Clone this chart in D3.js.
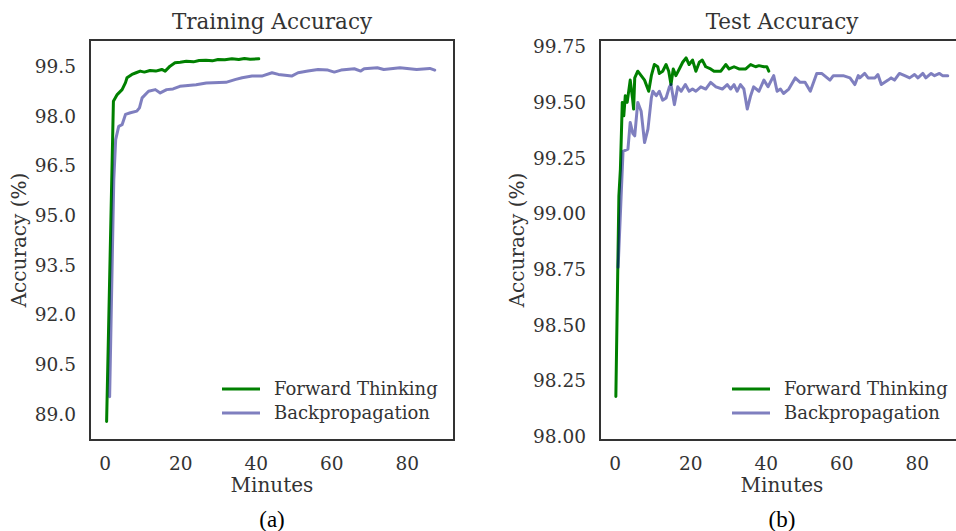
<!DOCTYPE html>
<html>
<head>
<meta charset="utf-8">
<script src="https://cdn.jsdelivr.net/npm/d3@7"></script>
<style>
  body { margin: 0; background: #fff; }
  svg { display: block; }
  text { font-family: "DejaVu Serif", serif; fill: #333; }
  .caption { font-family: "Liberation Serif", "Times New Roman", serif; fill: #000; }
</style>
</head>
<body>
<svg id="chart" width="956" height="531"></svg>
<script>
// training accuracy, forward thinking
const trainFtMin = [0.5, 2.3, 3.3, 4.6, 5.5, 5.9, 7.2, 8.3, 9.4, 10.5, 12, 13.5, 15.1, 16, 17.3, 18.6, 20, 21.6, 23.5, 25, 26.8, 28.5, 30, 31.8, 33.7, 35.5, 37, 38.5, 40.8];
const trainFtAcc = [88.78, 98.46, 98.66, 98.81, 99.02, 99.17, 99.27, 99.32, 99.37, 99.34, 99.39, 99.37, 99.42, 99.37, 99.52, 99.62, 99.64, 99.67, 99.65, 99.69, 99.70, 99.68, 99.72, 99.71, 99.74, 99.72, 99.75, 99.73, 99.74];

// training accuracy, backprop
const trainBpMin = [1.3, 2.4, 2.9, 3.7, 4.6, 5.5, 6.8, 8.5, 9.2, 9.9, 11.6, 13.4, 14.7, 16.4, 18.1, 19.9, 24.2, 26.9, 32.1, 34.7, 36.4, 39.0, 41.6, 44.3, 46.0, 49.5, 51.2, 53.8, 56.5, 59.1, 60.8, 62.6, 66.1, 67.8, 68.7, 72.2, 73.9, 78.2, 82.6, 86.1, 87.4];
const trainBpAcc = [89.53, 96.09, 97.30, 97.70, 97.75, 98.06, 98.11, 98.16, 98.26, 98.56, 98.76, 98.81, 98.71, 98.81, 98.83, 98.91, 98.96, 99.01, 99.03, 99.12, 99.17, 99.22, 99.22, 99.32, 99.27, 99.22, 99.32, 99.37, 99.42, 99.40, 99.34, 99.40, 99.44, 99.37, 99.44, 99.47, 99.42, 99.47, 99.42, 99.45, 99.40];

// test accuracy, forward thinking
const testFtMin = [0.3, 1.1, 1.5, 2.0, 2.4, 2.8, 3.3, 4.1, 4.7, 5.0, 5.3, 6.1, 7.0, 7.9, 9.0, 9.7, 10.5, 11.4, 11.8, 12.7, 13.6, 14.3, 14.9, 15.5, 16.2, 17.1, 18.0, 18.9, 19.7, 20.6, 21.5, 22.4, 23.2, 24.1, 25.4, 26.3, 27.2, 28.1, 29.4, 30.3, 31.6, 32.9, 34.7, 36.0, 37.3, 38.2, 39.5, 40.3, 40.8];
const testFtAcc = [98.18, 99.08, 99.20, 99.50, 99.44, 99.53, 99.50, 99.60, 99.52, 99.47, 99.61, 99.64, 99.62, 99.60, 99.55, 99.62, 99.67, 99.66, 99.63, 99.64, 99.67, 99.64, 99.58, 99.65, 99.62, 99.65, 99.68, 99.70, 99.67, 99.69, 99.64, 99.68, 99.69, 99.66, 99.65, 99.64, 99.64, 99.64, 99.67, 99.65, 99.66, 99.65, 99.65, 99.67, 99.66, 99.665, 99.66, 99.66, 99.64];

// test accuracy, backprop
const testBpMin = [0.9, 2.2, 3.5, 4.1, 4.8, 5.3, 6.1, 7.0, 7.9, 8.8, 9.7, 10.1, 11.0, 11.8, 12.7, 13.6, 14.5, 14.9, 15.8, 16.7, 17.6, 18.7, 19.7, 20.6, 21.5, 22.8, 24.1, 25.4, 26.8, 28.5, 29.8, 30.7, 31.6, 32.4, 33.3, 34.2, 35.1, 36.0, 36.8, 38.2, 39.5, 40.6, 42.1, 43.0, 43.9, 44.7, 46.1, 47.8, 49.1, 50.4, 51.8, 53.5, 54.8, 57.0, 57.9, 59.2, 60.5, 62.3, 63.6, 64.5, 64.9, 66.2, 67.1, 68.9, 69.7, 70.6, 72.4, 73.2, 74.1, 75.4, 76.8, 78.1, 79.4, 80.3, 81.6, 82.4, 83.8, 84.7, 86.0, 86.8, 88.2];
const testBpAcc = [98.76, 99.28, 99.29, 99.41, 99.36, 99.35, 99.50, 99.46, 99.32, 99.38, 99.52, 99.55, 99.53, 99.55, 99.51, 99.52, 99.57, 99.58, 99.49, 99.57, 99.55, 99.58, 99.55, 99.56, 99.55, 99.57, 99.56, 99.59, 99.57, 99.56, 99.58, 99.56, 99.58, 99.55, 99.58, 99.56, 99.47, 99.53, 99.57, 99.55, 99.60, 99.57, 99.62, 99.55, 99.56, 99.54, 99.56, 99.61, 99.59, 99.59, 99.55, 99.63, 99.63, 99.60, 99.62, 99.62, 99.62, 99.61, 99.58, 99.62, 99.61, 99.63, 99.61, 99.61, 99.625, 99.58, 99.60, 99.61, 99.60, 99.63, 99.62, 99.61, 99.625, 99.61, 99.63, 99.61, 99.63, 99.62, 99.63, 99.62, 99.62];

const xTicks = [0, 20, 40, 60, 80];
const trainTicks = [89.0, 90.5, 92.0, 93.5, 95.0, 96.5, 98.0, 99.5];
const testTicks = [98.00, 98.25, 98.50, 98.75, 99.00, 99.25, 99.50, 99.75];
const seriesNames = ["Forward Thinking", "Backpropagation"];

const svg = d3.select("#chart");

function zip(xs, ys) {
    return xs.map((x, i) => [x, ys[i]]);
}

function draw_panel(args) {
    const x0 = args.left, y0 = 40, w = 364, h = 400;
    const g = svg.append("g").attr("transform", "translate(" + x0 + "," + y0 + ")");

    const x = d3.scaleLinear().domain([-3.9, 92.5]).range([0, w]);
    const y = d3.scaleLinear().domain(args.ydomain).range([h, 0]);

    const line = d3.line().x(d => x(d[0])).y(d => y(d[1]));

    g.append("path")
        .datum(zip(args.ftMin, args.ftAcc))
        .attr("d", line)
        .attr("fill", "none")
        .attr("stroke", "#008000")
        .attr("stroke-width", 3)
        .attr("stroke-linejoin", "round")
        .attr("stroke-linecap", "round");

    g.append("path")
        .datum(zip(args.bpMin, args.bpAcc))
        .attr("d", line)
        .attr("fill", "none")
        .attr("stroke", "#000080")
        .attr("stroke-opacity", 0.5)
        .attr("stroke-width", 3)
        .attr("stroke-linejoin", "round")
        .attr("stroke-linecap", "round");

    const xAxis = g.append("g")
        .attr("transform", "translate(0," + h + ")")
        .call(d3.axisBottom(x).tickValues(xTicks).tickSize(0).tickPadding(17));
    xAxis.select(".domain").remove();
    xAxis.selectAll("text").style("font-size", "18.5px").style("font-family", "DejaVu Serif").attr("fill", "#333");

    const yAxis = g.append("g")
        .call(d3.axisLeft(y).tickValues(args.yticks).tickFormat(d3.format(args.yfmt)).tickSize(0).tickPadding(14));
    yAxis.select(".domain").remove();
    yAxis.selectAll("text").style("font-size", "18.5px").style("font-family", "DejaVu Serif").attr("fill", "#333");

    // frame
    g.append("rect")
        .attr("width", w).attr("height", h)
        .attr("fill", "none")
        .attr("stroke", "#333")
        .attr("stroke-width", 2);

    g.append("text")
        .attr("x", 182).attr("y", -11)
        .attr("text-anchor", "middle")
        .style("font-size", "21.5px")
        .text(args.title);

    g.append("text")
        .attr("x", 182).attr("y", h + 52)
        .attr("text-anchor", "middle")
        .style("font-size", "20px")
        .text("Minutes");

    g.append("text")
        .attr("transform", "translate(" + args.ylabelX + "," + (h / 2) + ") rotate(-90)")
        .attr("text-anchor", "middle")
        .style("font-size", "20px")
        .text("Accuracy (%)");

    g.append("text")
        .attr("class", "caption")
        .attr("x", 182).attr("y", h + 87)
        .attr("text-anchor", "middle")
        .style("font-size", "23px")
        .text(args.caption);

    // legend
    const colors = ["#008000", "#000080"];
    const opac = [1, 0.5];
    seriesNames.forEach((name, i) => {
        const ly = 349 + i * 24;
        g.append("line")
            .attr("x1", 132).attr("x2", 170)
            .attr("y1", ly).attr("y2", ly)
            .attr("stroke", colors[i])
            .attr("stroke-opacity", opac[i])
            .attr("stroke-width", 3);
        g.append("text")
            .attr("x", 184).attr("y", ly + 6)
            .style("font-size", "18px")
            .text(name);
    });
}

draw_panel({
    left: 90, title: "Training Accuracy", caption: "(a)",
    ydomain: [88.22, 100.31], yticks: trainTicks, yfmt: ".1f", ylabelX: -64,
    ftMin: trainFtMin, ftAcc: trainFtAcc, bpMin: trainBpMin, bpAcc: trainBpAcc
});

draw_panel({
    left: 600, title: "Test Accuracy", caption: "(b)",
    ydomain: [97.985, 99.78], yticks: testTicks, yfmt: ".2f", ylabelX: -76,
    ftMin: testFtMin, ftAcc: testFtAcc, bpMin: testBpMin, bpAcc: testBpAcc
});
</script>
</body>
</html>
